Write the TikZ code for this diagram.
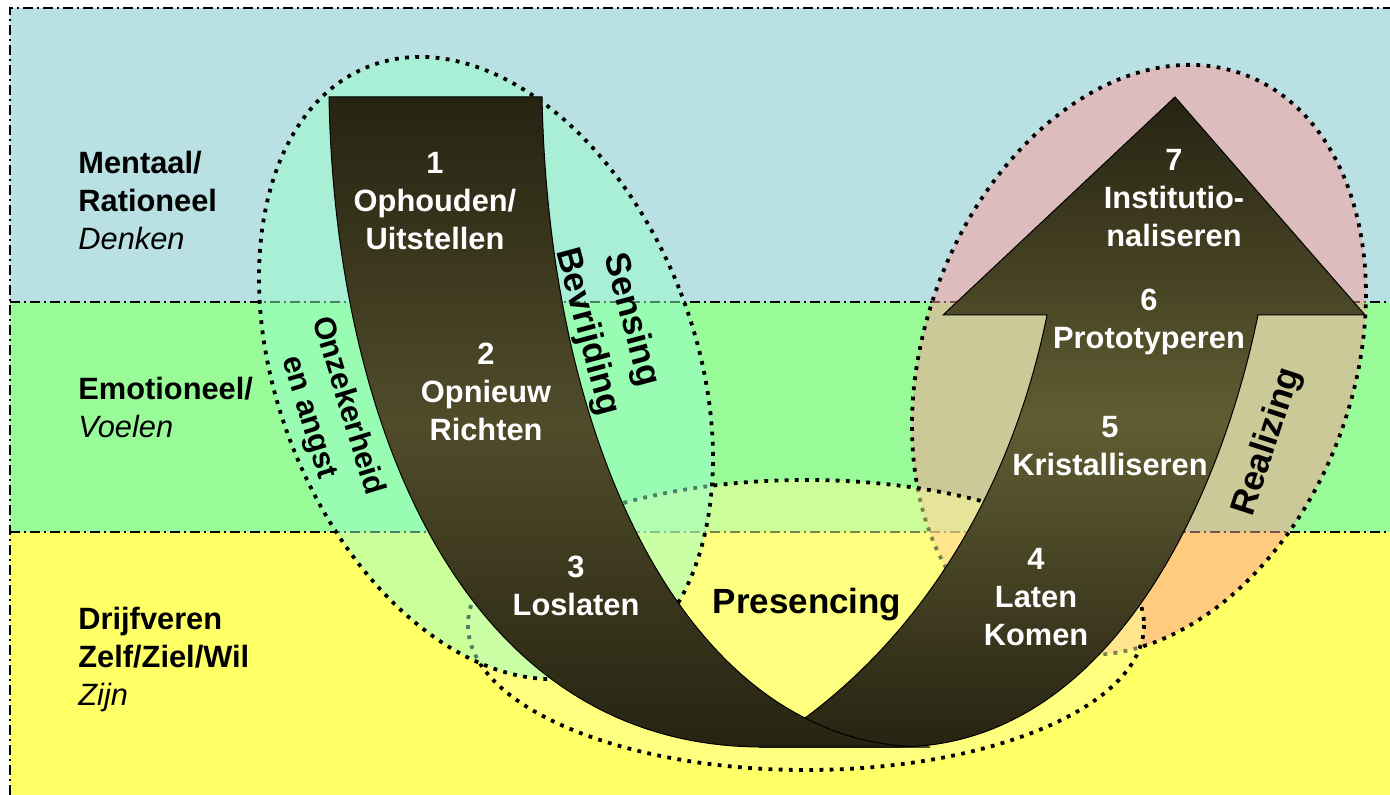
\documentclass[tikz,border=0pt]{standalone}
\usepackage{fontspec}
\setmainfont{Liberation Sans}
\usepackage{tikz}
\usetikzlibrary{calc}
\definecolor{mentalblue}{RGB}{185,224,226}
\definecolor{emotiongreen}{RGB}{152,251,152}
\definecolor{drivesyellow}{RGB}{255,255,102}
\definecolor{sensingfill}{RGB}{153,255,204}
\definecolor{presencingfill}{RGB}{255,255,153}
\definecolor{realizingfill}{RGB}{255,153,153}
\definecolor{armdark}{RGB}{38,35,18}
\definecolor{armmidleft}{RGB}{80,76,42}
\definecolor{armmidright}{RGB}{96,93,51}

\begin{document}
\begin{tikzpicture}[x=0.5pt,y=-0.5pt,
    bandline/.style={black,line width=0.6pt,dash pattern=on 5pt off 2pt on 1pt off 2pt},
    zone/.style={line width=1.9pt,dash pattern=on 1.9pt off 3.2pt,fill opacity=0.5},
    arm/.style={draw=black,line width=0.5pt},
    stagetext/.style={text=white,align=center,font=\bfseries\fontsize{15.4}{19}\selectfont},
    leveltext/.style={anchor=west,align=left,inner sep=0pt,font=\fontsize{15.4}{19}\selectfont},
    movetext/.style={align=center,font=\bfseries\fontsize{17.5}{22.8}\selectfont}]
    \useasboundingbox (0,0) rectangle (1390,795);
    \fill[white] (0,0) rectangle (1390,795);
    \fill[mentalblue] (10,8) rectangle (1390,302);
    \fill[emotiongreen] (10,302) rectangle (1390,532);
    \fill[drivesyellow] (10,532) rectangle (1390,795);
    \draw[bandline] (10,795) -- (10,8) -- (1390,8);
    \draw[bandline] (10,302) -- (1390,302);
    \draw[bandline] (10,532) -- (1390,532);

    \coordinate (R) at (1139,360);
    \coordinate (P) at (806,625);
    \coordinate (S) at (486,368);
    \draw[zone,fill=realizingfill,rotate around={-20.1:(R)}] (R) ellipse [x radius=214.5, y radius=304.2];
    \draw[zone,fill=presencingfill] (P) ellipse [x radius=338, y radius=145];
    \draw[zone,fill=sensingfill,rotate around={21.1:(S)}] (S) ellipse [x radius=208.8, y radius=323.5];

    \coordinate (tip) at (1175,97);
    \coordinate (headL) at (943,315);
    \coordinate (headR) at (1365,315);
    \coordinate (shaftL) at (1047,315);
    \coordinate (shaftR) at (1258,315);
    \coordinate (meet) at (805,718);
    \coordinate (bottomR) at (900,747);
    \coordinate (bottomL) at (760,747);
    \coordinate (innerEnd) at (930,747);
    \coordinate (topL) at (329,97);
    \coordinate (topR) at (542,97);
    \draw[arm,top color=armdark,bottom color=armdark,middle color=armmidright]
        (shaftL) -- (headL) -- (tip) -- (headR) -- (shaftR)
        .. controls (1220,500) and (1110,745) .. (bottomR) -- (bottomL) -- (meet)
        .. controls (950,610) and (1020,450) .. (shaftL) -- cycle;
    \draw[arm,top color=armdark,bottom color=armdark,middle color=armmidleft]
        (topL) -- (topR) .. controls (548,400) and (650,640) .. (meet)
        .. controls (850,741) and (890,747) .. (innerEnd) -- (bottomL)
        .. controls (460,745) and (335,420) .. (topL) -- cycle;

    \node[stagetext] (stage1) at (435,201) {1\\Ophouden/\\Uitstellen};
    \node[stagetext] (stage2) at (486,392) {2\\Opnieuw\\Richten};
    \node[stagetext] (stage3) at (576,586) {3\\Loslaten};
    \node[stagetext] (stage4) at (1036,597) {4\\Laten\\Komen};
    \node[stagetext] (stage5) at (1110,446) {5\\Kristalliseren};
    \node[stagetext] (stage6) at (1149,322) {6\\Prototyperen};
    \node[stagetext] (stage7) at (1174,198) {7\\Institutio-\\naliseren};

    \node[movetext] (presencing) at (807,605) {Presencing};
    \node[movetext,rotate=-75] (sensing) at (609,326) {Sensing\\Bevrijding};
    \node[movetext,rotate=72] (realizing) at (1268,442) {Realizing};
    \node[movetext,font=\bfseries\fontsize{15.4}{20}\selectfont,rotate=-73] (onzeker) at (328,412) {Onzekerheid\\en angst};

    \node[leveltext] (mentaal) at (78,200) {\textbf{Mentaal/}\\\textbf{Rationeel}\\\textit{Denken}};
    \node[leveltext] (emotioneel) at (78,407) {\textbf{Emotioneel/}\\\textit{Voelen}};
    \node[leveltext] (drijfveren) at (78,660) {\textbf{Drijfveren}\\\textbf{Zelf/Ziel/Wil}\\\textit{Zijn}};
\end{tikzpicture}
\end{document}
